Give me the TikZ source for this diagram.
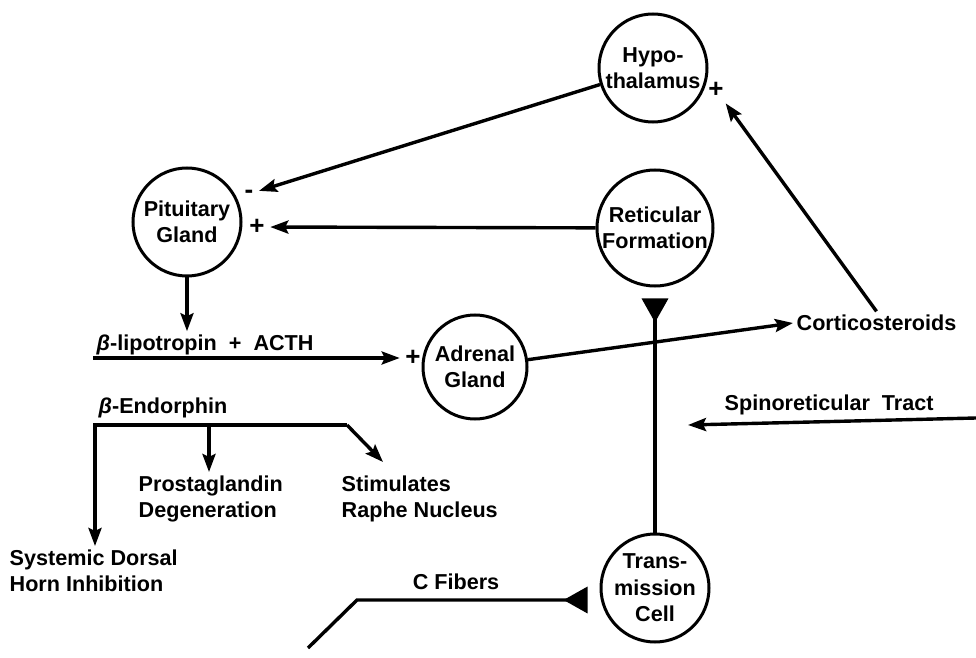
\documentclass[tikz,border=0pt]{standalone}
\usepackage{fontspec}
\setmainfont{Liberation Sans}
\usetikzlibrary{arrows.meta,automata}

\begin{document}
\begin{tikzpicture}[x=0.5pt, y=-0.5pt, line width=1.7pt,
                    >={Stealth[length=9pt, width=6.5pt, inset=1.5pt]},
                    font=\fontsize{10.8}{13.2}\selectfont\bfseries]
    \tikzstyle{every state}=[fill=none, draw, line width=1.5pt, inner sep=0pt,
                             align=center, minimum size=54pt]
    \tikzstyle{txt}=[inner sep=1pt, align=left]
    \tikzstyle{sign}=[inner sep=2pt, font=\fontsize{13}{13}\selectfont\bfseries]
    \tikzstyle{syn}=[-{Triangle[reversed, length=12pt, width=13pt]}]

    \useasboundingbox (0,0) rectangle (976,658);

    \node[state]                    (hypo)  at (653,68)  {Hypo-\\thalamus};
    \node[state]                    (pit)   at (187,222) {Pituitary\\Gland};
    \node[state, minimum size=58pt] (ret)   at (655,228) {Reticular\\Formation};
    \node[state, minimum size=52pt] (adr)   at (475,367) {Adrenal\\Gland};
    \node[state]                    (trans) at (655,588) {Trans-\\mission\\Cell};

    \node[sign] (hypP) at (716,90)  {+};
    \node[sign] (pitM) at (249,194) {-};
    \node[sign] (pitP) at (257,227) {+};
    \node[sign] (adrP) at (413,358) {+};

    \node[txt, anchor=west]       (lip)   at (93,345)  {\textit{β}-lipotropin \ + \ ACTH};
    \node[txt, anchor=west]       (endo)  at (95,408)  {\textit{β}-Endorphin};
    \node[txt, anchor=west]       (cort)  at (793,323) {Corticosteroids};
    \node[txt, anchor=west]       (spin)  at (721,405) {Spinoreticular \ Tract};
    \node[txt, anchor=north west] (prost) at (135,472) {Prostaglandin\\Degeneration};
    \node[txt, anchor=north west] (raphe) at (338,472) {Stimulates\\Raphe Nucleus};
    \node[txt, anchor=north west] (sdh)   at (6,546)   {Systemic Dorsal\\Horn Inhibition};
    \node[txt]                    (cfib)  at (456,582) {C Fibers};

    \coordinate (lipL)   at (93,358);
    \coordinate (endoL)  at (95,425);
    \coordinate (endoM)  at (209,425);
    \coordinate (endoR)  at (347,425);
    \coordinate (rapheA) at (383,462);
    \coordinate (spinR)  at (976,418);
    \coordinate (spinL)  at (688,425);
    \coordinate (cfibA)  at (308,648);
    \coordinate (cfibB)  at (357,600);

    \draw[->] (hypo) -- (pitM);
    \draw[->] (ret) -- (pitP);
    \draw[->] (pit) -- (pit |- lip.north);
    \draw[->] (lipL) -- (adrP);
    \draw[->] (adr) -- (cort.west);
    \draw[->] (cort.north) -- (hypP);
    \draw[->] (spinR) -- (spinL);
    \draw[syn, shorten >=5.5pt] (trans) -- (ret);
    \draw[syn, shorten >=6pt] (cfibA) -- (cfibB) -- (cfibB -| trans.west);
    \draw[->] (endoR) -- (endoL) -- (endoL |- sdh.north);
    \draw[->] (endoR) -- (rapheA);
    \draw[->] (endoM) -- (endoM |- prost.north);
\end{tikzpicture}
\end{document}
